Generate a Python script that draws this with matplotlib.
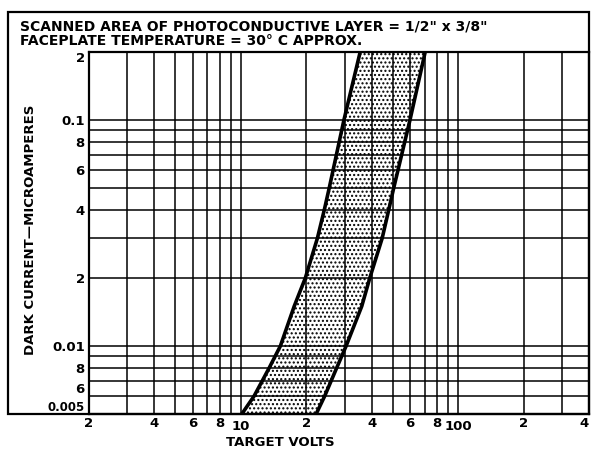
import matplotlib
matplotlib.use("Agg")
import matplotlib.pyplot as plt
import matplotlib.ticker as mticker
from matplotlib.patches import Rectangle

# ── data ─────────────────────────────────────────────────────────────────────
dark_current = [0.005, 0.006, 0.008, 0.01, 0.015, 0.02, 0.03, 0.04, 0.05, 0.1, 0.2]
volts_low = [10.1, 11.5, 13.5, 15.2, 17.6, 19.8, 22.5, 24.2, 25.5, 29.8, 35.4]
volts_high = [22.2, 24.3, 27.6, 30.5, 36.0, 39.2, 44.7, 47.9, 50.5, 60.0, 70.5]

x_ticks = [2, 4, 6, 8, 10, 20, 40, 60, 80, 100, 200, 400]
x_labels = ["2", "4", "6", "8", "10", "2", "4", "6", "8", "100", "2", "4"]
y_ticks = [0.005, 0.006, 0.008, 0.01, 0.02, 0.04, 0.06, 0.08, 0.1, 0.2]
y_labels = ["0.005", "6", "8", "0.01", "2", "4", "6", "8", "0.1", "2"]

header = ('SCANNED AREA OF PHOTOCONDUCTIVE LAYER = 1/2" x 3/8"\n'
          "FACEPLATE TEMPERATURE = 30\u00b0 C APPROX.")

plt.rcParams.update({
    "font.family": "DejaVu Sans",
    "font.weight": "bold",
})

W, H = 591, 450
fig = plt.figure(figsize=(W / 100, H / 100), dpi=100)
fig.patch.set_facecolor("white")

# axes box in pixel terms -> figure fractions
L, R, T, B = 89, 589, 52, 414
ax = fig.add_axes([L / W, 1 - B / H, (R - L) / W, (B - T) / H])
ax.set_xscale("log")
ax.set_yscale("log")
ax.set_xlim(2, 400)
ax.set_ylim(0.005, 0.2)

# grid – every cycle line, like printed log paper
ax.xaxis.set_minor_locator(mticker.LogLocator(base=10, subs=range(2, 10), numticks=20))
ax.yaxis.set_minor_locator(mticker.LogLocator(base=10, subs=range(2, 10), numticks=20))
ax.grid(which="both", color="black", linewidth=1.1, zorder=0)
ax.tick_params(which="both", length=0)
ax.xaxis.set_minor_formatter(mticker.NullFormatter())
ax.yaxis.set_minor_formatter(mticker.NullFormatter())

ax.set_xticks(x_ticks)
ax.set_xticklabels(x_labels, fontsize=9.5, fontweight="bold")
ax.set_yticks(y_ticks)
ax.set_yticklabels(y_labels, fontsize=9.5, fontweight="bold")
ax.tick_params(axis="x", pad=2)
ax.tick_params(axis="y", pad=3)
for lbl, v in zip(ax.get_xticklabels(), x_ticks):
    if v in (10, 100):
        lbl.set_y(-0.009)
    if v == 400:
        lbl.set_ha("right")
for lbl, v in zip(ax.get_yticklabels(), y_ticks):
    if v == 0.2:
        lbl.set_va("top")
    elif v == 0.005:
        lbl.set_va("bottom")
        lbl.set_fontsize(8.5)
    elif v == 0.006:
        lbl.set_va("bottom")

for s in ax.spines.values():
    s.set_linewidth(1.6)

# stippled band between the two limit curves
ax.fill_betweenx(dark_current, volts_low, volts_high, facecolor="none",
                 edgecolor="black", hatch="....", linewidth=0, zorder=2)
ax.plot(volts_low, dark_current, color="black", linewidth=2.6, zorder=3)
ax.plot(volts_high, dark_current, color="black", linewidth=2.6, zorder=3)

# outer frame with header
fig.add_artist(Rectangle((8 / W, 1 - B / H), (R - 8) / W, (B - 12) / H,
                         transform=fig.transFigure, fill=False,
                         edgecolor="black", linewidth=1.6))
fig.text(20 / W, 1 - 20 / H, header, ha="left", va="top", fontsize=10,
         fontweight="bold", linespacing=1.0)

fig.text(31 / W, 1 - 230 / H, "DARK CURRENT\u2014MICROAMPERES", rotation=90,
         ha="center", va="center", fontsize=9.5, fontweight="bold")
fig.text(280 / W, 1 - 442 / H, "TARGET VOLTS", ha="center", va="center",
         fontsize=9.5, fontweight="bold")

fig.savefig("out.png", dpi=100, facecolor="white")
